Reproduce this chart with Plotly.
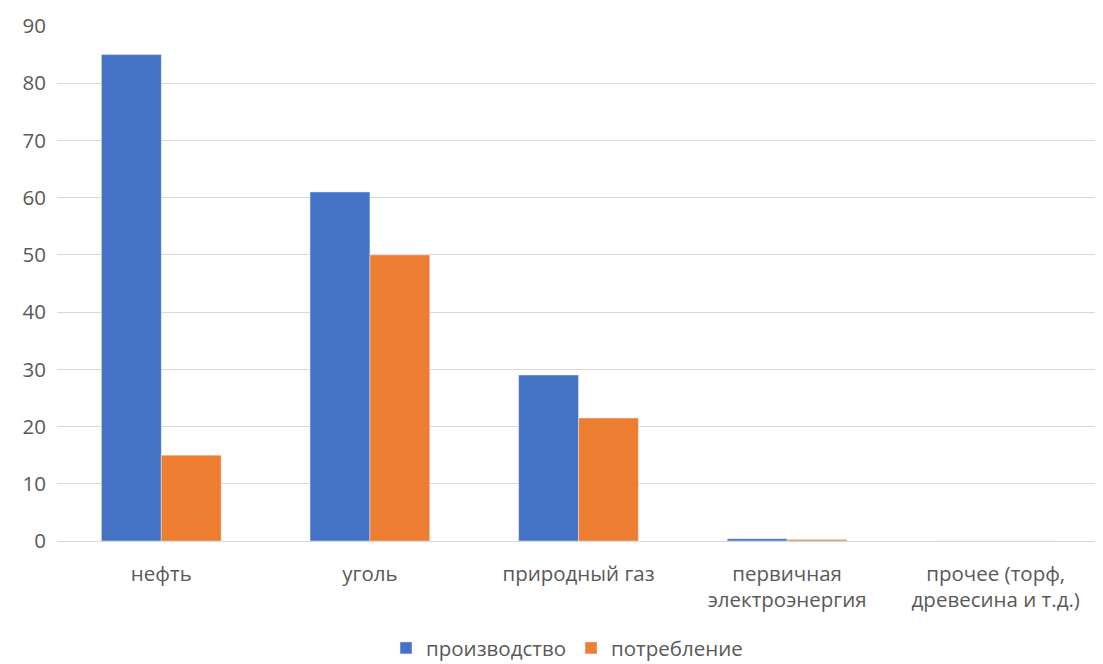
import plotly.graph_objects as go

categories = ["нефть", "уголь", "природный газ", "первичная<br>электроэнергия", "прочее (торф,<br>древесина и т.д.)"]
production = [85, 61, 29, 0.4, 0]
consumption = [15, 50, 21.5, 0.25, 0]
y_ticks = [0, 10, 20, 30, 40, 50, 60, 70, 80, 90]

font_family = "Open Sans, Liberation Sans, sans-serif"
text_color = "#595959"

fig = go.Figure()
fig.add_trace(go.Bar(x=categories, y=production, name="производство", marker_color="#4472C4"))
fig.add_trace(go.Bar(x=categories, y=consumption, name="потребление", marker_color="#ED7D31"))

# page has an 8px body margin, so the figure is slightly smaller than the window
fig.update_layout(
    width=1095, height=656,
    margin=dict(l=49, r=3, t=18, b=123, autoexpand=False),
    paper_bgcolor="white", plot_bgcolor="white",
    barmode="group", bargap=0.426, bargroupgap=0,
    font=dict(family=font_family, size=20, color=text_color),
    legend=dict(orientation="h", x=0.489, xanchor="center", y=-0.208, yanchor="middle",
                font=dict(size=20.5, color=text_color), itemwidth=30, traceorder="normal"),
    showlegend=True,
)
fig.update_yaxes(range=[0, 90], tickvals=y_ticks, showgrid=True, gridcolor="#D9D9D9", gridwidth=1,
                 zeroline=False, showline=False, ticks="", tickfont=dict(size=20.5, color=text_color),
                 ticklabelstandoff=10, automargin=False)
fig.update_xaxes(showline=True, linecolor="#D9D9D9", linewidth=1, ticks="",
                 tickfont=dict(size=20.5, color=text_color), ticklabelstandoff=14, automargin=False)

fig.write_html("out.html")
